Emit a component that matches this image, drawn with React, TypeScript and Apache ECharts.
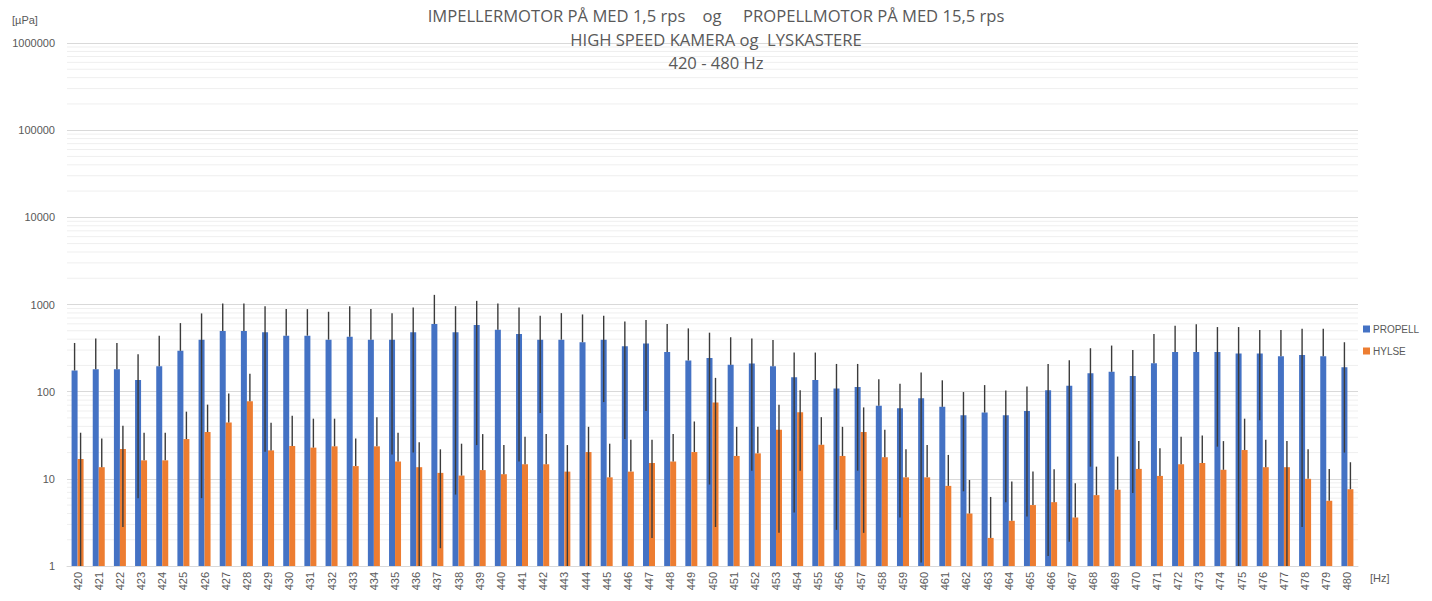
import React, { useEffect, useRef } from "react";
import * as echarts from "echarts";

const categories = [
  "420","421","422","423","424","425","426","427","428","429",
  "430","431","432","433","434","435","436","437","438","439",
  "440","441","442","443","444","445","446","447","448","449",
  "450","451","452","453","454","455","456","457","458","459",
  "460","461","462","463","464","465","466","467","468","469",
  "470","471","472","473","474","475","476","477","478","479","480",
];

const propell = [
  175,181,181,136,196,294,395,496,496,480,
  439,439,395,428,395,395,480,597,480,581,
  514,459,395,395,369,395,332,356,286,228,
  244,203,210,196,146,136,109,113,69,64.5,
  84,67,53.7,57.6,53.7,60,104,117,163,169,
  151,212,286,286,286,274,274,255,264,255,190,
];
const propellUpper = [
  362,406,362,269,439,612,790,1026,1026,957,
  885,885,825,957,885,796,925,1290,957,1101,
  1026,925,743,796,769,743,640,662,597,532,
  475,421,406,392,281,281,208,208,139,123,
  166,135,99,119,103,115,207,230,315,338,
  301,459,571,592,551,551,510,510,528,528,369,
];
const propellLower: (number | null)[] = [
  null,null,null,6,null,null,6,null,null,20.5,
  null,null,null,null,null,19,20,null,6.6,24.4,
  null,15.8,57,null,null,76,28.6,60,null,null,
  8.6,null,12.4,null,4.1,null,2.6,12.4,null,3.6,
  1.1,null,7.2,null,5.4,3.7,1.3,1.9,13.8,null,
  6.9,null,null,null,23.4,1,47,null,2.8,null,20,
];

const hylse = [
  16.9,13.6,22,16.3,16.3,28.6,34.4,44.3,77.6,21.2,
  23.8,22.8,23.6,14,23.6,15.8,13.6,11.7,10.9,12.6,
  11.3,14.7,14.7,12.1,20.3,10.4,12.1,15.2,15.8,20.3,
  75,18.3,19.6,36.5,58,24.6,18.3,34.4,17.7,10.4,
  10.4,8.3,4,2.1,3.3,5,5.4,3.6,6.5,7.5,
  13,10.8,14.7,15.2,12.7,21.4,13.6,13.6,10,5.6,7.6,
];
const hylseUpper = [
  33.8,29.1,40.6,33.8,33.8,59,71,95,160,44,
  52.8,49,49,29,51,33.8,26.2,21.8,25.3,32.6,
  24.4,30.4,32.6,24.4,39.5,25.3,28.1,28.1,32.6,45.5,
  144,39.5,39.5,71,104,51,39.5,66,36.5,21.8,
  24.4,18.8,9.7,6.2,9.3,12.1,12.9,8.9,13.8,18,
  27.1,22.4,30.4,31.5,27.1,49,28.1,27.1,21.8,13,15.5,
];
const hylseLower: (number | null)[] = [
  1,null,2.8,null,null,null,null,null,null,null,
  null,null,null,null,null,null,1,1.6,null,null,
  null,null,null,1,1,null,null,2.1,null,null,
  2.8,null,null,2.4,12.4,null,null,2.4,null,null,
  null,null,null,null,null,null,null,null,null,null,
  null,null,null,null,null,null,null,1,null,null,null,
];

const minorGridValues: number[] = [];
for (let e = 0; e < 6; e++) {
  for (let m = 2; m <= 9; m++) minorGridValues.push(m * Math.pow(10, e));
}

const BAR_W = 6;
const FONT = "'Liberation Sans', Arial, sans-serif";
const TITLE_FONT = "'Open Sans', sans-serif";

function errorSeries(name: string, values: number[], upper: number[], lower: (number | null)[], offset: number) {
  return {
    type: "custom",
    name: name + "-err",
    z: 5,
    silent: true,
    renderItem: (params: any, api: any) => {
      const i = api.value(0);
      const up = api.value(2);
      const lo = Math.max(api.value(3), 1);
      const p1 = api.coord([i, up]);
      const p2 = api.coord([i, lo]);
      const x = p1[0] + offset;
      return {
        type: "line",
        shape: { x1: x, y1: p1[1], x2: x, y2: p2[1] },
        style: { stroke: "#3b3b3b", lineWidth: 1.4 },
      };
    },
    encode: { x: 0, y: 1 },
    data: values.map((v, i) => [i, v, upper[i], lower[i] ?? v]),
  };
}

export default function App() {
  const ref = useRef<HTMLDivElement>(null);
  useEffect(() => {
    document.body.style.margin = "0";
    const chart = echarts.init(ref.current!, null, { renderer: "svg" });
    chart.setOption({
      animation: false,
      backgroundColor: "#ffffff",
      title: {
        text: "IMPELLERMOTOR PÅ MED 1,5 rps    og     PROPELLMOTOR PÅ MED 15,5 rps\nHIGH SPEED KAMERA og  LYSKASTERE\n420 - 480 Hz",
        left: "center",
        top: -1,
        textStyle: {
          fontFamily: TITLE_FONT,
          fontSize: 16.6,
          fontWeight: "normal",
          color: "#595959",
          lineHeight: 23.5,
        },
      },
      legend: {
        orient: "vertical",
        left: 1358,
        top: 319,
        itemWidth: 7,
        itemHeight: 7,
        itemGap: 12,
        icon: "rect",
        data: ["PROPELL", "HYLSE"],
        textStyle: { fontFamily: FONT, fontSize: 10, color: "#595959", padding: [0, 0, 0, -2] },
      },
      graphic: [
        { type: "text", left: 12, top: 14, style: { text: "[µPa]", fontFamily: FONT, fontSize: 11, fill: "#595959" } },
        { type: "text", left: 1370, top: 572, style: { text: "[Hz]", fontFamily: FONT, fontSize: 11, fill: "#595959" } },
      ],
      grid: { left: 67, right: 74, top: 43, bottom: 35, containLabel: false },
      xAxis: {
        type: "category",
        data: categories,
        axisTick: { show: false },
        axisLine: { lineStyle: { color: "#d9d9d9", width: 1 } },
        axisLabel: {
          rotate: 90,
          interval: 0,
          margin: 6,
          fontFamily: FONT,
          fontSize: 11,
          color: "#595959",
        },
      },
      yAxis: {
        type: "log",
        logBase: 10,
        min: 1,
        max: 1000000,
        axisLine: { show: false },
        axisTick: { show: false },
        splitLine: { show: true, lineStyle: { color: "#d9d9d9", width: 1 } },
        axisLabel: {
          fontFamily: FONT,
          fontSize: 11,
          color: "#595959",
          margin: 12,
          formatter: (v: number) => String(Math.round(v)),
        },
      },
      series: [
        {
          type: "custom",
          name: "minorgrid",
          z: 0,
          silent: true,
          renderItem: (params: any, api: any) => {
            const cs = params.coordSys;
            const y = api.coord([0, api.value(1)])[1];
            return {
              type: "line",
              shape: { x1: cs.x, y1: y, x2: cs.x + cs.width, y2: y },
              style: { stroke: "#efefef", lineWidth: 1 },
            };
          },
          encode: { x: 0, y: 1 },
          data: minorGridValues.map((v) => [0, v]),
        },
        {
          type: "bar",
          name: "PROPELL",
          data: propell,
          barWidth: BAR_W,
          barGap: "0%",
          z: 2,
          itemStyle: { color: "#4472C4" },
        },
        {
          type: "bar",
          name: "HYLSE",
          data: hylse,
          barWidth: BAR_W,
          barGap: "0%",
          z: 2,
          itemStyle: { color: "#ED7D31" },
        },
        errorSeries("PROPELL", propell, propellUpper, propellLower, -BAR_W / 2),
        errorSeries("HYLSE", hylse, hylseUpper, hylseLower, BAR_W / 2),
      ],
    });
    return () => chart.dispose();
  }, []);
  return <div ref={ref} style={{ width: 1432, height: 601 }} />;
}
